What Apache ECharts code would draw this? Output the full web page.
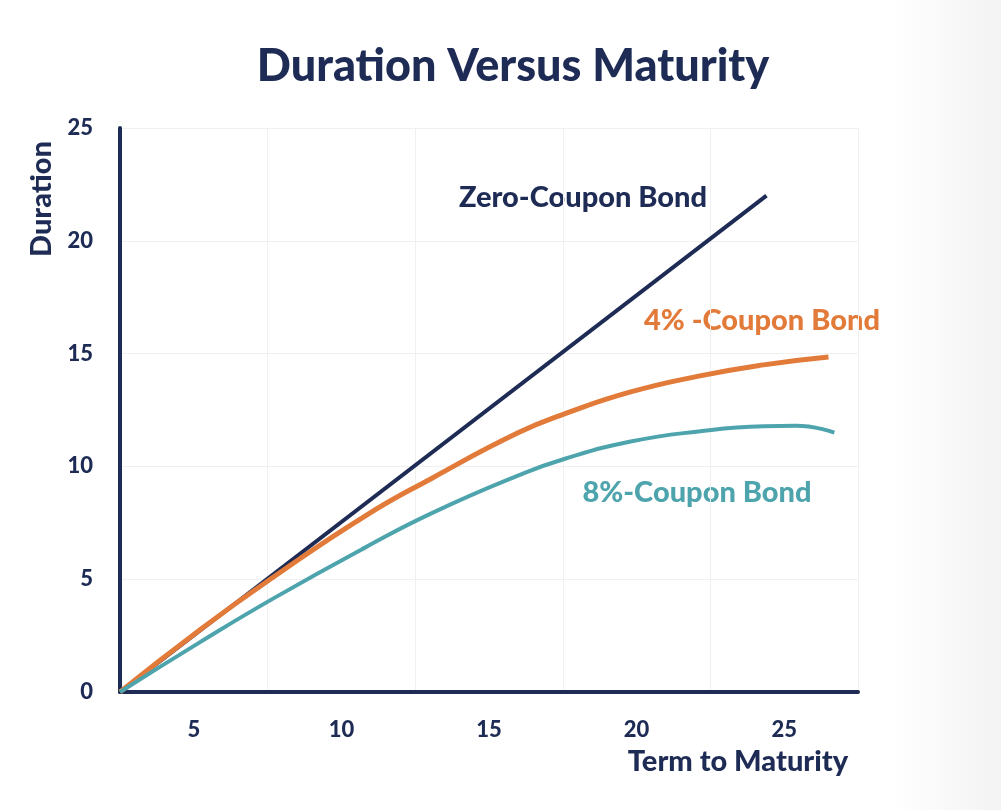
<!DOCTYPE html>
<html>
<head>
<meta charset="utf-8">
<title>Duration Versus Maturity</title>
<script src="https://cdn.jsdelivr.net/npm/echarts@6/dist/echarts.min.js"></script>
<style>
  html, body {
    margin: 0;
    padding: 0;
    background: linear-gradient(to right, #ffffff 0%, #ffffff 89%, #f3f3f3 100%);
  }
  #chart {
    width: 1001px;
    height: 810px;
  }
</style>
</head>
<body>
<div id="chart"></div>
<script>
// x labels sit in the middle of each 5-year band
const termLabels = ['5', '10', '15', '20', '25']

// [maturity, duration]
const zeroCoupon = [[0, 0], [21.9, 22]]
const coupon4 = [
  [0, 0], [2.7, 2.75], [5.2, 5.1], [8.3, 7.8], [10.6, 9.5], [13.5, 11.5],
  [15.1, 12.35], [17.3, 13.3], [19.6, 14.0], [21.8, 14.5], [24.0, 14.85]
]
const coupon8 = [
  [0, 0], [2.7, 2.2], [5.2, 4.15], [8.3, 6.4], [10.6, 7.95], [13.5, 9.6],
  [15.1, 10.35], [17.3, 11.1], [19.6, 11.55], [21.8, 11.78], [22.9, 11.8], [24.2, 11.5]
]

const navy = '#1d2b55'
const orange = '#e27b3a'
const teal = '#4ea4ad'
const font = 'Lato, "Open Sans", sans-serif'

const myChart = echarts.init(document.getElementById('chart'), null, { renderer: 'canvas' })

const option = {
  backgroundColor: 'transparent',
  animation: false,
  grid: {
    left: 120,
    right: 143,
    top: 128,
    bottom: 118
  },
  xAxis: [
    {
      type: 'value',
      min: 0,
      max: 25,
      interval: 5,
      axisLine: { show: true, lineStyle: { color: navy, width: 4 } },
      axisTick: { show: false },
      axisLabel: { show: false },
      splitLine: { show: true, lineStyle: { color: '#f0f0f0', width: 1 } }
    },
    {
      type: 'category',
      position: 'bottom',
      data: termLabels,
      boundaryGap: true,
      axisLine: { show: false },
      axisTick: { show: false },
      splitLine: { show: false },
      axisLabel: {
        color: navy,
        fontFamily: font,
        fontWeight: 900,
        fontSize: 22,
        margin: 27
      }
    }
  ],
  yAxis: {
    type: 'value',
    min: 0,
    max: 25,
    interval: 5,
    axisLine: { show: true, lineStyle: { color: navy, width: 4 } },
    axisTick: { show: false },
    axisLabel: {
      color: navy,
      fontFamily: font,
      fontWeight: 900,
      fontSize: 22,
      margin: 27
    },
    splitLine: { show: true, lineStyle: { color: '#f0f0f0', width: 1 } }
  },
  series: [
    {
      name: 'Zero-Coupon Bond',
      type: 'line',
      xAxisIndex: 0,
      data: zeroCoupon,
      showSymbol: false,
      lineStyle: { color: navy, width: 4 },
      z: 3
    },
    {
      name: '4% -Coupon Bond',
      type: 'line',
      xAxisIndex: 0,
      data: coupon4,
      smooth: true,
      showSymbol: false,
      lineStyle: { color: orange, width: 5 },
      z: 4
    },
    {
      name: '8%-Coupon Bond',
      type: 'line',
      xAxisIndex: 0,
      data: coupon8,
      smooth: true,
      showSymbol: false,
      lineStyle: { color: teal, width: 4 },
      z: 5
    }
  ],
  graphic: [
    {
      type: 'text',
      x: 513,
      y: 66,
      style: {
        text: 'Duration Versus Maturity',
        fill: navy,
        font: '900 45px ' + font,
        align: 'center',
        verticalAlign: 'middle'
      }
    },
    {
      type: 'text',
      x: 42,
      y: 199,
      rotation: Math.PI / 2,
      style: {
        text: 'Duration',
        fill: navy,
        font: '900 29px ' + font,
        align: 'center',
        verticalAlign: 'middle'
      }
    },
    {
      type: 'text',
      x: 738,
      y: 762,
      style: {
        text: 'Term to Maturity',
        fill: navy,
        font: '900 29px ' + font,
        align: 'center',
        verticalAlign: 'middle'
      }
    },
    {
      type: 'text',
      x: 583,
      y: 198,
      style: {
        text: 'Zero-Coupon Bond',
        fill: navy,
        font: '900 29px ' + font,
        align: 'center',
        verticalAlign: 'middle'
      }
    },
    {
      type: 'text',
      x: 762,
      y: 321,
      style: {
        text: '4% -Coupon Bond',
        fill: orange,
        font: '900 29px ' + font,
        align: 'center',
        verticalAlign: 'middle'
      }
    },
    {
      type: 'text',
      x: 697,
      y: 493,
      style: {
        text: '8%-Coupon Bond',
        fill: teal,
        font: '900 29px ' + font,
        align: 'center',
        verticalAlign: 'middle'
      }
    }
  ]
}

myChart.setOption(option)
</script>
</body>
</html>
